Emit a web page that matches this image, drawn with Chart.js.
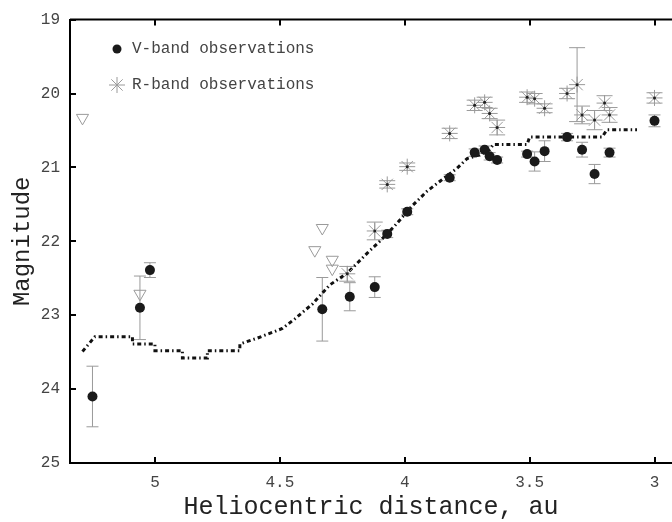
<!DOCTYPE html>
<html>
<head>
<meta charset="utf-8">
<script src="https://cdn.jsdelivr.net/npm/chart.js@4/dist/chart.umd.min.js"></script>
<style>
  body { margin: 0; background: #fff; }
  #wrap { width: 672px; height: 522px; }
</style>
</head>
<body>
<div id="wrap"><canvas id="myChart" width="672" height="522"></canvas></div>
<script>
// V-band observations (heliocentric distance, magnitude, error)
const vDist = [5.25, 5.06, 5.02, 4.33, 4.22, 4.12, 4.07, 3.99, 3.82, 3.72, 3.68, 3.66, 3.63, 3.51, 3.48, 3.44, 3.35, 3.29, 3.24, 3.18, 3.00];
const vMag = [24.10, 22.90, 22.39, 22.92, 22.75, 22.62, 21.90, 21.60, 21.14, 20.80, 20.76, 20.85, 20.90, 20.82, 20.92, 20.78, 20.59, 20.76, 21.09, 20.80, 20.37];
const vErr = [0.41, 0.43, 0.10, 0.43, 0.19, 0.14, 0.05, 0.04, 0.04, 0.05, 0.05, 0.05, 0.04, 0.04, 0.13, 0.14, 0.05, 0.10, 0.13, 0.06, 0.08];

// R-band observations
const rDist = [4.23, 4.12, 4.07, 3.99, 3.82, 3.72, 3.68, 3.66, 3.63, 3.51, 3.48, 3.44, 3.35, 3.31, 3.29, 3.24, 3.20, 3.18, 3.00];
const rMag = [22.44, 21.86, 21.23, 20.99, 20.54, 20.16, 20.12, 20.27, 20.46, 20.05, 20.07, 20.20, 20.00, 19.88, 20.29, 20.36, 20.13, 20.29, 20.06];
const rErr = [0.10, 0.12, 0.05, 0.05, 0.07, 0.07, 0.07, 0.07, 0.10, 0.07, 0.07, 0.06, 0.07, 0.50, 0.12, 0.13, 0.10, 0.10, 0.07];

// upper limits (open triangles)
const limDist = [5.29, 5.06, 4.33, 4.36, 4.29, 4.29];
const limMag = [20.33, 22.71, 21.82, 22.12, 22.25, 22.37];

// model curve (dash-dot)
const modelDist = [5.29, 5.24, 5.09, 5.09, 5.00, 5.00, 4.89, 4.89, 4.79, 4.79, 4.66, 4.66, 4.59, 4.49, 4.44, 4.37, 4.30, 4.23, 4.15, 4.10, 4.04, 3.97, 3.91, 3.86, 3.79, 3.75, 3.70, 3.66, 3.645, 3.51, 3.50, 3.21, 3.19, 3.07];
const modelMag = [23.49, 23.29, 23.29, 23.39, 23.39, 23.48, 23.48, 23.58, 23.58, 23.48, 23.48, 23.39, 23.31, 23.18, 23.05, 22.85, 22.59, 22.43, 22.16, 22.00, 21.79, 21.52, 21.32, 21.19, 21.01, 20.88, 20.83, 20.76, 20.69, 20.69, 20.59, 20.59, 20.49, 20.49];

const xTicks = [5, 4.5, 4, 3.5, 3];
const yTicks = [19, 20, 21, 22, 23, 24, 25];

const FONT = "'Liberation Mono', 'Courier New', monospace";

function toPoints(xs, ys) {
  return xs.map((x, i) => ({ x: x, y: ys[i] }));
}

// vertical error bars with caps, placed through the chart scales
const errorBars = {
  id: "errorBars",
  beforeDatasetsDraw(chart) {
    const ctx = chart.ctx;
    const sx = chart.scales.x;
    const sy = chart.scales.y;
    ctx.save();
    ctx.strokeStyle = "#9a9a9a";
    ctx.lineWidth = 1;
    [
      [vDist, vMag, vErr, 6],
      [rDist, rMag, rErr, 8],
    ].forEach(([xs, ys, es, cap]) => {
      xs.forEach((d, i) => {
        const px = sx.getPixelForValue(d);
        const top = sy.getPixelForValue(ys[i] - es[i]);
        const bot = sy.getPixelForValue(ys[i] + es[i]);
        ctx.beginPath();
        ctx.moveTo(px, top);
        ctx.lineTo(px, bot);
        ctx.moveTo(px - cap, top);
        ctx.lineTo(px + cap, top);
        ctx.moveTo(px - cap, bot);
        ctx.lineTo(px + cap, bot);
        ctx.stroke();
      });
    });
    ctx.restore();
  },
};

// top frame line and inward tick marks
const frame = {
  id: "frame",
  afterDraw(chart) {
    const ctx = chart.ctx;
    const a = chart.chartArea;
    const sx = chart.scales.x;
    const sy = chart.scales.y;
    ctx.save();
    ctx.strokeStyle = "#000";
    ctx.lineWidth = 2;
    ctx.beginPath();
    ctx.moveTo(a.left, a.top);
    ctx.lineTo(a.right, a.top);
    sx.ticks.forEach((t) => {
      const px = Math.round(sx.getPixelForValue(t.value));
      ctx.moveTo(px, a.bottom);
      ctx.lineTo(px, a.bottom - 6);
      ctx.moveTo(px, a.top);
      ctx.lineTo(px, a.top + 6);
    });
    sy.ticks.forEach((t) => {
      const py = Math.round(sy.getPixelForValue(t.value));
      ctx.moveTo(a.left, py);
      ctx.lineTo(a.left + 6, py);
    });
    ctx.stroke();
    ctx.restore();
  },
};

// legend inside the plot, top left
const insideLegend = {
  id: "insideLegend",
  afterDraw(chart) {
    const ctx = chart.ctx;
    ctx.save();
    ctx.fillStyle = "#1a1a1a";
    ctx.beginPath();
    ctx.arc(117, 49, 4.5, 0, Math.PI * 2);
    ctx.fill();

    ctx.strokeStyle = "#9a9a9a";
    ctx.lineWidth = 1;
    ctx.beginPath();
    for (let k = 0; k < 4; k++) {
      const ang = (k * Math.PI) / 4;
      ctx.moveTo(117 - 8 * Math.cos(ang), 85 - 8 * Math.sin(ang));
      ctx.lineTo(117 + 8 * Math.cos(ang), 85 + 8 * Math.sin(ang));
    }
    ctx.stroke();

    ctx.fillStyle = "#444";
    ctx.font = "16px " + FONT;
    ctx.textBaseline = "middle";
    ctx.fillText("V-band observations", 132, 49);
    ctx.fillText("R-band observations", 132, 85);
    ctx.restore();
  },
};

new Chart("myChart", {
  type: "scatter",
  data: {
    datasets: [
      {
        label: "V-band observations",
        data: toPoints(vDist, vMag),
        pointStyle: "circle",
        pointRadius: 5,
        backgroundColor: "#1a1a1a",
        borderColor: "#1a1a1a",
        borderWidth: 0,
      },
      {
        label: "R-band centre",
        data: toPoints(rDist, rMag),
        pointStyle: "circle",
        pointRadius: 1.5,
        backgroundColor: "#222",
        borderWidth: 0,
      },
      {
        label: "R-band observations",
        data: toPoints(rDist, rMag),
        pointStyle: "star",
        pointRadius: 8,
        borderColor: "#9a9a9a",
        borderWidth: 1,
      },
      {
        label: "Upper limits",
        data: toPoints(limDist, limMag),
        pointStyle: "triangle",
        rotation: 180,
        pointRadius: 7,
        backgroundColor: "rgba(255,255,255,0)",
        borderColor: "#9a9a9a",
        borderWidth: 1,
      },
      {
        label: "Model",
        type: "line",
        data: toPoints(modelDist, modelMag),
        showLine: true,
        pointRadius: 0,
        borderColor: "#111",
        borderWidth: 3,
        borderDash: [4, 3, 1.5, 3],
        fill: false,
      },
    ],
  },
  options: {
    responsive: false,
    animation: false,
    devicePixelRatio: 1,
    layout: {
      autoPadding: false,
      padding: { top: 12, right: 0, left: 0, bottom: 0 },
    },
    plugins: {
      legend: { display: false },
      tooltip: { enabled: false },
    },
    scales: {
      x: {
        type: "linear",
        reverse: true,
        min: 2.93,
        max: 5.34,
        afterBuildTicks: (scale) => {
          scale.ticks = xTicks.map((v) => ({ value: v }));
        },
        afterFit: (scale) => {
          scale.height = 59;
          scale.paddingLeft = 0;
          scale.paddingRight = 0;
        },
        grid: { display: true, drawOnChartArea: false, drawTicks: false },
        border: { display: true, color: "#000", width: 2 },
        ticks: {
          padding: 10,
          color: "#444",
          font: { family: FONT, size: 16 },
          callback: (v) => String(v),
        },
        title: {
          display: true,
          text: "Heliocentric distance, au",
          color: "#222",
          font: { family: FONT, size: 25 },
          padding: { top: 0, bottom: 0 },
        },
      },
      y: {
        type: "linear",
        reverse: true,
        min: 19,
        max: 25,
        afterBuildTicks: (scale) => {
          scale.ticks = yTicks.map((v) => ({ value: v }));
        },
        afterFit: (scale) => {
          scale.width = 70;
        },
        grid: { display: true, drawOnChartArea: false, drawTicks: false },
        border: { display: true, color: "#000", width: 2 },
        ticks: {
          padding: 10,
          color: "#444",
          font: { family: FONT, size: 16 },
        },
        title: {
          display: true,
          text: "Magnitude",
          color: "#222",
          font: { family: FONT, size: 24 },
          padding: { top: 8, bottom: 0 },
        },
      },
    },
  },
  plugins: [errorBars, frame, insideLegend],
});
</script>
</body>
</html>
